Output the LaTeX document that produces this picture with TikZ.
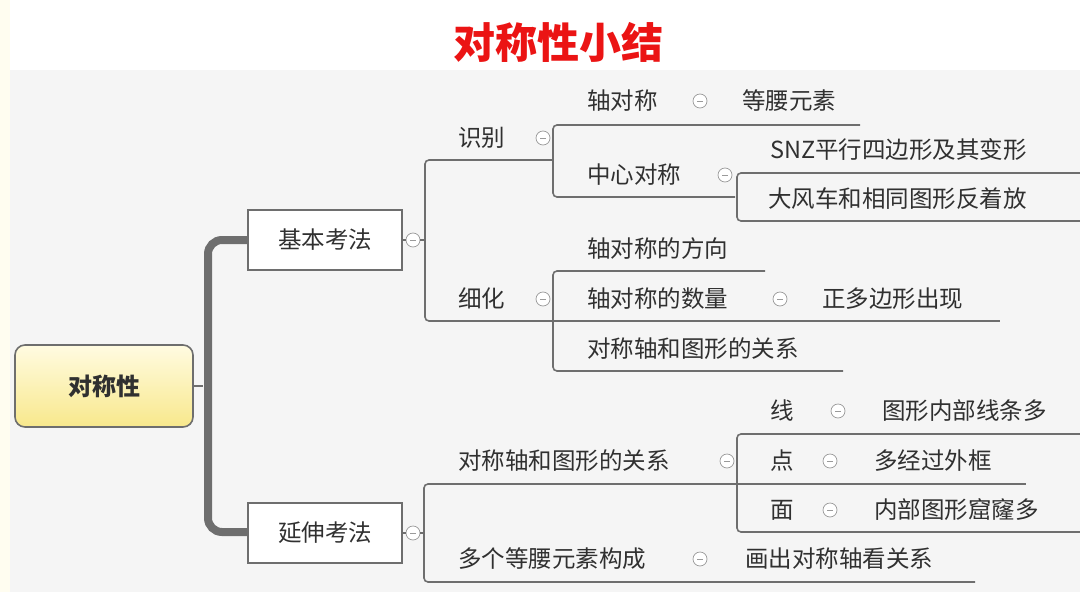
\documentclass[tikz,border=0pt]{standalone}
\usepackage{fontspec}
\setmainfont{Noto Sans CJK SC}
\usetikzlibrary{calc}
\definecolor{ln}{HTML}{6E6E6E}
\definecolor{tx}{HTML}{303030}
\tikzset{
 lab/.style={font=\fontsize{23.5}{23.5}\selectfont, text=tx, inner sep=0pt, anchor=west},
 conn/.style={draw=ln, line width=1.6pt, rounded corners=4pt},
 tog/.style={circle, draw=ln!70, line width=0.7pt, minimum size=14pt, inner sep=0pt, fill=white,
   path picture={\draw[ln!70,line width=0.7pt] ([xshift=-3pt]path picture bounding box.center)--([xshift=3pt]path picture bounding box.center);}},
 box/.style={draw=ln, line width=1.6pt, fill=white, minimum width=154pt, minimum height=60pt, font=\fontsize{23.5}{23.5}\selectfont, text=tx}
}
\begin{document}
\begin{tikzpicture}[x=1pt,y=-1pt]
\useasboundingbox (0,0) rectangle (1080,592);
\fill[white] (0,0) rectangle (1080,592);
\fill[fill={rgb,255:red,255;green,253;blue,240}] (0,0) rectangle (10,592);
\fill[fill={rgb,255:red,245;green,245;blue,245}] (10,70) rectangle (1080,592);
\node[font=\fontsize{42}{42}\selectfont\bfseries, text={rgb,255:red,235;green,20;blue,20}] (title) at (558,42) {对称性小结};
% root
\node[draw=ln, line width=1.6pt, rounded corners=10pt, minimum width=178pt, minimum height=82pt,
  top color={rgb,255:red,255;green,251;blue,225}, bottom color={rgb,255:red,248;green,232;blue,140},
  font=\fontsize{24}{24}\selectfont\bfseries, text=tx] (root) at (104,386) {对称性};
\node[box] (b1) at (325,240) {基本考法};
\node[box] (b2) at (325,533) {延伸考法};
\draw[ln, line width=1.6pt] (root.east) -- (203,386);
\draw[ln, line width=8pt, rounded corners=14pt] (248,240) -- (208,240) -- (208,532) -- (248,532);
% basic branch
\node[tog] (t1) at (413,240) {};
\node[tog] (t2) at (413,533) {};
\draw[conn] (b1.east) -- (t1);
\draw[conn] (b2.east) -- (t2);
\draw[conn] (t1.east) -- (425,240);
\draw[conn] (553,160) -- (425,160) -- (425,321) -- (553,321);
\node[lab] (sb) at (458,138) {识别};
\node[tog] (tsb) at (543,138) {};
\node[lab] (xh) at (458,299) {细化};
\node[tog] (txh) at (543,299) {};
% 识别 subtree
\draw[conn] (860,125) -- (553,125) -- (553,197) -- (735,197);
\node[lab] (zdc) at (587,101) {轴对称};
\node[tog] (tzdc) at (700,101) {};
\node[lab] (dy) at (742,101) {等腰元素};
\node[lab] (zx) at (587,175) {中心对称};
\node[tog] (tzx) at (725,175) {};
\draw[conn] (1080,173) -- (737,173) -- (737,221) -- (1080,221);
\node[lab] (snz) at (770,150) {SNZ平行四边形及其变形};
\node[lab] (dfc) at (768,199) {大风车和相同图形反着放};
% 细化 subtree
\draw[conn] (765,271) -- (553,271) -- (553,371) -- (843,371);
\draw[conn] (553,321) -- (1000,321);
\node[lab] (fx) at (587,249) {轴对称的方向};
\node[lab] (sl) at (587,299) {轴对称的数量};
\node[tog] (tsl) at (780,299) {};
\node[lab] (zdb) at (822,299) {正多边形出现};
\node[lab] (gx) at (587,349) {对称轴和图形的关系};
% extension branch
\draw[conn] (737,484) -- (424,484) -- (424,582) -- (975,582);
\draw[conn] (t2.east) -- (424,533);
\node[lab] (gx2) at (458,461) {对称轴和图形的关系};
\node[tog] (tgx2) at (727,461) {};
\draw[conn] (1080,434) -- (737,434) -- (737,532) -- (1080,532);
\draw[conn] (737,484) -- (1026,484);
\node[lab] (xian) at (770,411) {线};
\node[tog] (txian) at (838,411) {};
\node[lab] (nbx) at (882,411) {图形内部线条多};
\node[lab] (dian) at (770,461) {点};
\node[tog] (tdian) at (830,461) {};
\node[lab] (dj) at (874,461) {多经过外框};
\node[lab] (mian) at (770,510) {面};
\node[tog] (tmian) at (830,510) {};
\node[lab] (kl) at (874,510) {内部图形窟窿多};
\node[lab] (dg) at (458,559) {多个等腰元素构成};
\node[tog] (tdg) at (700,559) {};
\node[lab] (hc) at (745,559) {画出对称轴看关系};
\end{tikzpicture}
\end{document}
